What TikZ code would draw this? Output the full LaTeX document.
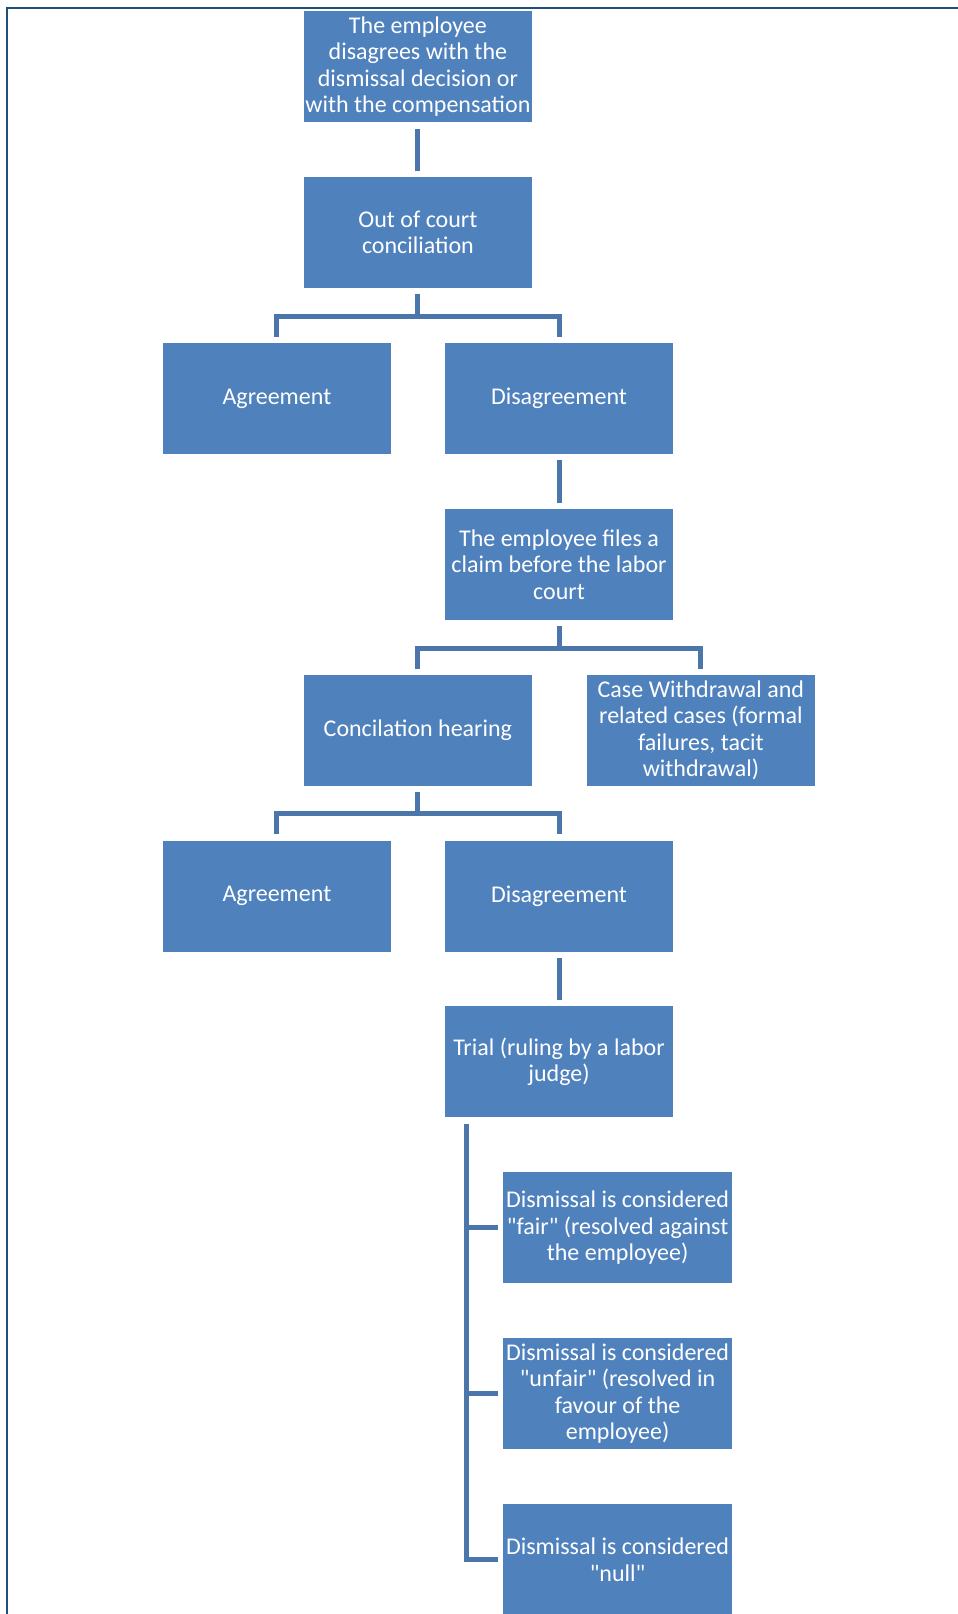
\documentclass[tikz,border=0pt]{standalone}
\usepackage{fontspec}
\setmainfont{Carlito}[Ligatures=TeXOff]
\usetikzlibrary{calc}
\definecolor{boxblue}{HTML}{4F81BD}
\definecolor{linkblue}{HTML}{4A76AB}
\definecolor{framecol}{HTML}{1F4E79}
\begin{document}
\begin{tikzpicture}[x=1pt,y=1pt,
  stepbox/.style={fill=boxblue, draw=none, text=white, minimum width=228.5pt, minimum height=111pt,
    inner sep=0pt, align=center, font=\fontsize{24}{26.5}\selectfont},
  link/.style={draw=linkblue, line width=5pt, line join=miter},
  frame/.style={draw=framecol, line width=2pt}]
\useasboundingbox (0,0) rectangle (958,-1614);
% frame
\coordinate (fl) at (7.3,-1614);
\coordinate (ftl) at (7.3,-7.8);
\coordinate (fr) at (958,-7.8);
\draw[frame] (fl) -- (ftl) -- (fr);
% nodes (centres)
\node[stepbox] (top)   at (417.9,-66.8)  {The employee\\disagrees with the\\dismissal decision or\\with the compensation};
\node[stepbox] (occ)   at (417.9,-232.6) {Out of court\\conciliation};
\node[stepbox] (agr1)  at (276.9,-398.5) {Agreement};
\node[stepbox] (dis1)  at (559.0,-398.5) {Disagreement};
\node[stepbox] (claim) at (559.0,-564.3) {The employee files a\\claim before the labor\\court};
\node[stepbox] (hear)  at (417.9,-730.2) {Concilation hearing};
\node[stepbox] (with)  at (700.9,-730.2) {Case Withdrawal and\\related cases (formal\\failures, tacit\\withdrawal)};
\node[stepbox] (agr2)  at (276.9,-896.0) {Agreement};
\node[stepbox] (dis2)  at (559.0,-896.0) {Disagreement};
\node[stepbox] (trial) at (559.0,-1061.9) {Trial (ruling by a labor\\judge)};
\node[stepbox] (fair)  at (617.6,-1227.7) {Dismissal is considered\\"fair" (resolved against\\the employee)};
\node[stepbox] (unfair) at (617.6,-1393.6) {Dismissal is considered\\"unfair" (resolved in\\favour of the\\employee)};
\node[stepbox] (null)  at (617.6,-1559.5) {Dismissal is considered\\"null"};
% straight connectors
\draw[link] ($(top.south)+(0,-6)$) -- ($(occ.north)+(0,6)$);
\draw[link] ($(dis1.south)+(0,-6)$) -- ($(claim.north)+(0,6)$);
\draw[link] ($(dis2.south)+(0,-6)$) -- ($(trial.north)+(0,6)$);
% elbow connectors
\draw[link] ($(occ.south)+(0,-6)$) -- ($(occ.south)+(0,-28)$);
\draw[link] ($(agr1.north)+(0,6)$) |- ($(occ.south)+(0,-28)$) -| ($(dis1.north)+(0,6)$);
\draw[link] ($(claim.south)+(0,-6)$) -- ($(claim.south)+(0,-28)$);
\draw[link] ($(hear.north)+(0,6)$) |- ($(claim.south)+(0,-28)$) -| ($(with.north)+(0,6)$);
\draw[link] ($(hear.south)+(0,-6)$) -- ($(hear.south)+(0,-28)$);
\draw[link] ($(agr2.north)+(0,6)$) |- ($(hear.south)+(0,-28)$) -| ($(dis2.north)+(0,6)$);
% bracket from trial
\coordinate (tb) at ($(trial.south west)+(21.6,-6)$);
\draw[link] (tb) |- ($(null.west)+(-5.5,0)$);
\draw[link] (tb) |- ($(fair.west)+(-5.5,0)$);
\draw[link] (tb) |- ($(unfair.west)+(-5.5,0)$);
\end{tikzpicture}
\end{document}
